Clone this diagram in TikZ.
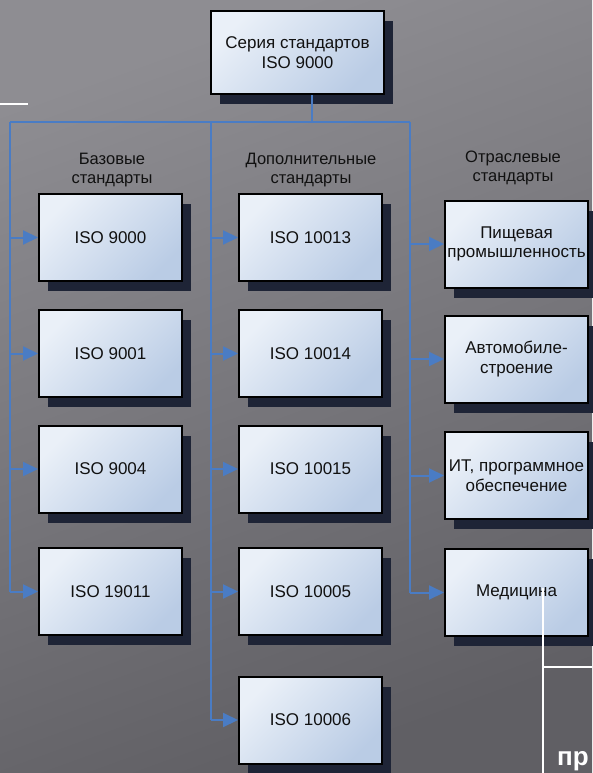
\documentclass[tikz,border=0pt]{standalone}
\usepackage{fontspec}
\setmainfont{Liberation Sans}
\usepackage{tikz}
\usetikzlibrary{arrows.meta,positioning,shadows}
\definecolor{slidetop}{HTML}{8E8D92}
\definecolor{slidebottom}{HTML}{605F64}
\definecolor{boxlight}{HTML}{EAF0F8}
\definecolor{boxdark}{HTML}{BACCE5}
\definecolor{shadowink}{HTML}{1E2436}
\definecolor{busblue}{HTML}{4A7CC4}
\definecolor{ink}{HTML}{111111}

\begin{document}
\begin{tikzpicture}[
  x=1pt, y=-1pt,
  stdbox/.style={draw=black, line width=2pt, top color=boxlight, bottom color=boxdark, shading angle=45,
    minimum width=143pt, minimum height=87pt, align=center, text=ink, inner sep=1pt,
    font=\fontsize{17}{19.5}\selectfont,
    drop shadow={shadow xshift=9pt, shadow yshift=-10pt, fill=shadowink, opacity=1}},
  heading/.style={align=center, text=ink, font=\fontsize{16.5}{19}\selectfont},
  bus/.style={draw=busblue, line width=2pt},
  arrow/.style={-{Triangle[length=15pt,width=14pt]}, draw=busblue, line width=2pt},
  overlay/.style={draw=white, line width=2.2pt}
]
% slide background
\shade[top color=slidetop, bottom color=slidebottom, shading angle=20] (0,0) rectangle (592,773);
\useasboundingbox (0,0) rectangle (592,773);

% top node
\node[stdbox, minimum width=173pt, minimum height=83pt] (series) at (297.5,52.5) {Серия стандартов\\ISO 9000};

% column headings
\node[heading] (basehead) at (112,170) {Базовые\\стандарты};
\node[heading] (addhead) at (311,170) {Дополнительные\\стандарты};
\node[heading] (sectorhead) at (513,168) {Отраслевые\\стандарты};

% basic standards
\node[stdbox] (iso9000) at (110.5,237.5) {ISO 9000};
\node[stdbox] (iso9001) at (110.5,353.5) {ISO 9001};
\node[stdbox] (iso9004) at (110.5,469) {ISO 9004};
\node[stdbox] (iso19011) at (110.5,591.5) {ISO 19011};

% additional standards
\node[stdbox] (iso10013) at (310.5,237.5) {ISO 10013};
\node[stdbox] (iso10014) at (310.5,353.5) {ISO 10014};
\node[stdbox] (iso10015) at (310.5,469) {ISO 10015};
\node[stdbox] (iso10005) at (310.5,591.5) {ISO 10005};
\node[stdbox] (iso10006) at (310.5,720) {ISO 10006};

% sector standards
\node[stdbox] (food) at (516.5,244) {Пищевая\\промышленность};
\node[stdbox] (auto) at (516.5,359) {Автомобиле-\\строение};
\node[stdbox] (it) at (516.5,475.5) {ИТ, программное\\обеспечение};
\node[stdbox] (med) at (516.5,592.5) {Медицина};

% bus lines
\coordinate (busA) at (10,122);
\coordinate (busB) at (211,122);
\coordinate (busC) at (410,122);
\coordinate (trunk) at ([xshift=14.5pt]series.south);
\draw[bus] (trunk) -- (trunk |- busA);
\draw[bus] (busA) -- (busC);
\draw[bus] (busA) -- (busA |- iso19011.west);
\draw[bus] (busB) -- (busB |- iso10006.west);
\draw[bus] (busC) -- (busC |- med.west);

\draw[arrow] (busA |- iso9000.west) -- (iso9000.west);
\draw[arrow] (busA |- iso9001.west) -- (iso9001.west);
\draw[arrow] (busA |- iso9004.west) -- (iso9004.west);
\draw[arrow] (busA |- iso19011.west) -- (iso19011.west);
\draw[arrow] (busB |- iso10013.west) -- (iso10013.west);
\draw[arrow] (busB |- iso10014.west) -- (iso10014.west);
\draw[arrow] (busB |- iso10015.west) -- (iso10015.west);
\draw[arrow] (busB |- iso10005.west) -- (iso10005.west);
\draw[arrow] (busB |- iso10006.west) -- (iso10006.west);
\draw[arrow] (busC |- food.west) -- (food.west);
\draw[arrow] (busC |- auto.west) -- (auto.west);
\draw[arrow] (busC |- it.west) -- (it.west);
\draw[arrow] (busC |- med.west) -- (med.west);

% white lines of the slide behind
\draw[overlay] (0,104) -- (28,104);
\draw[overlay] (543,588) -- (543,773);
\draw[overlay] (543,667) -- (592,667);
\node[anchor=base west, inner sep=0pt, text=white, font=\fontsize{26}{30}\selectfont\bfseries] (tail) at (557,765) {пр};
\end{tikzpicture}
\end{document}
